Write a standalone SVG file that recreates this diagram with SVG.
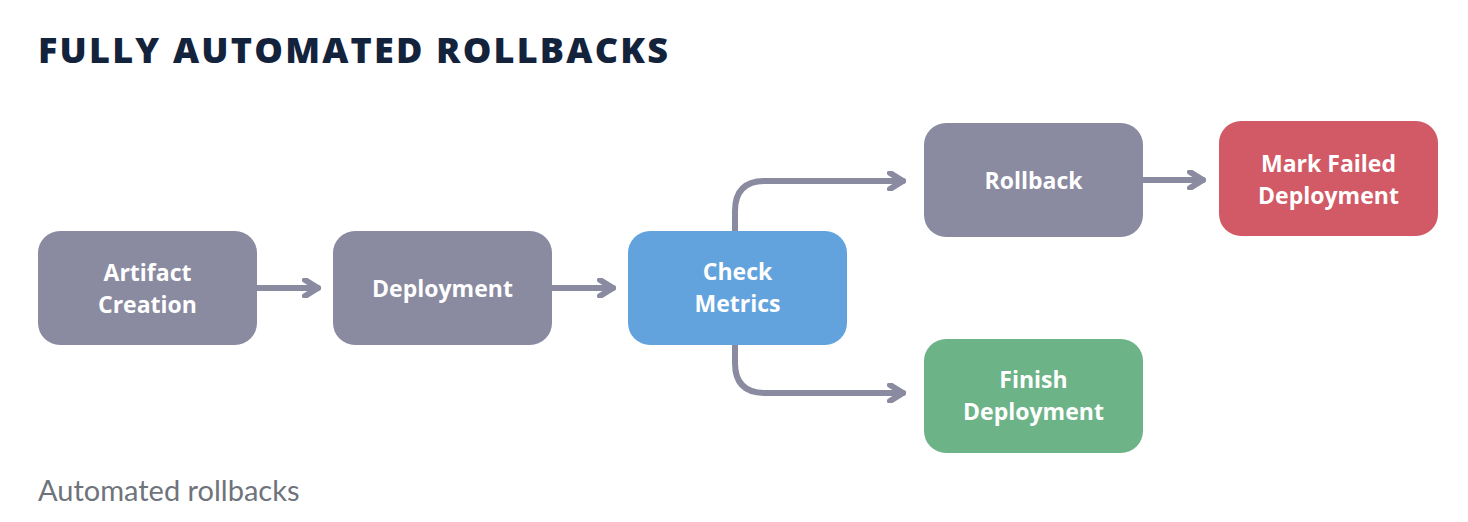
<svg xmlns="http://www.w3.org/2000/svg" width="1468" height="522" viewBox="0 0 1468 522">
  <style>
    .title { font-family: "Open Sans", "Liberation Sans", sans-serif; font-weight: 800; font-size: 36px; letter-spacing: 2.2px; fill: #14233c; }
    .caption { font-family: Lato, "Liberation Sans", sans-serif; font-size: 29px; fill: #6e737c; }
    .box { stroke: none; }
    .gray { fill: #8a8aa0; }
    .blue { fill: #62a3dd; }
    .red { fill: #d25a66; }
    .green { fill: #6db388; }
    .label { font-family: "Open Sans", Lato, "Liberation Sans", sans-serif; font-weight: 700; font-size: 23px; fill: #ffffff; text-anchor: middle; }
    .link { fill: none; stroke: #8a8aa0; stroke-width: 6; stroke-linecap: round; stroke-linejoin: round; }
  </style>
  <defs>
    <marker id="chevron" viewBox="0 0 20 20" refX="16" refY="10" markerWidth="20" markerHeight="20" markerUnits="userSpaceOnUse" orient="auto">
      <path d="M3 2 L16 10 L3 18" fill="none" stroke="#8a8aa0" stroke-width="6" stroke-linecap="round" stroke-linejoin="round"/>
    </marker>
  </defs>

  <rect width="1468" height="522" fill="#ffffff"/>

  <text class="title" x="38" y="63">FULLY AUTOMATED ROLLBACKS</text>

  <!-- connectors -->
  <g id="connectors">
    <path class="link" d="M257 288 H318" marker-end="url(#chevron)"/>
    <path class="link" d="M552 288 H613" marker-end="url(#chevron)"/>
    <path class="link" d="M735 231 V211 Q735 181 765 181 H903" marker-end="url(#chevron)"/>
    <path class="link" d="M735 345 V363 Q735 393 765 393 H903" marker-end="url(#chevron)"/>
    <path class="link" d="M1143 180 H1203" marker-end="url(#chevron)"/>
  </g>

  <g id="artifact-creation">
    <rect class="box gray" x="38" y="231" width="219" height="114" rx="22"/>
    <text class="label" x="147.5" y="281">Artifact</text>
    <text class="label" x="147.5" y="313">Creation</text>
  </g>

  <g id="deployment">
    <rect class="box gray" x="333" y="231" width="219" height="114" rx="22"/>
    <text class="label" x="442.5" y="297">Deployment</text>
  </g>

  <g id="check-metrics">
    <rect class="box blue" x="628" y="231" width="219" height="114" rx="22"/>
    <text class="label" x="737.5" y="280">Check</text>
    <text class="label" x="737.5" y="312">Metrics</text>
  </g>

  <g id="rollback">
    <rect class="box gray" x="924" y="123" width="219" height="114" rx="22"/>
    <text class="label" x="1033.5" y="189">Rollback</text>
  </g>

  <g id="mark-failed-deployment">
    <rect class="box red" x="1219" y="121" width="219" height="115" rx="22"/>
    <text class="label" x="1328.5" y="172">Mark Failed</text>
    <text class="label" x="1328.5" y="204">Deployment</text>
  </g>

  <g id="finish-deployment">
    <rect class="box green" x="924" y="339" width="219" height="114" rx="22"/>
    <text class="label" x="1033.5" y="388">Finish</text>
    <text class="label" x="1033.5" y="420">Deployment</text>
  </g>

  <text class="caption" x="38" y="501">Automated rollbacks</text>
</svg>
